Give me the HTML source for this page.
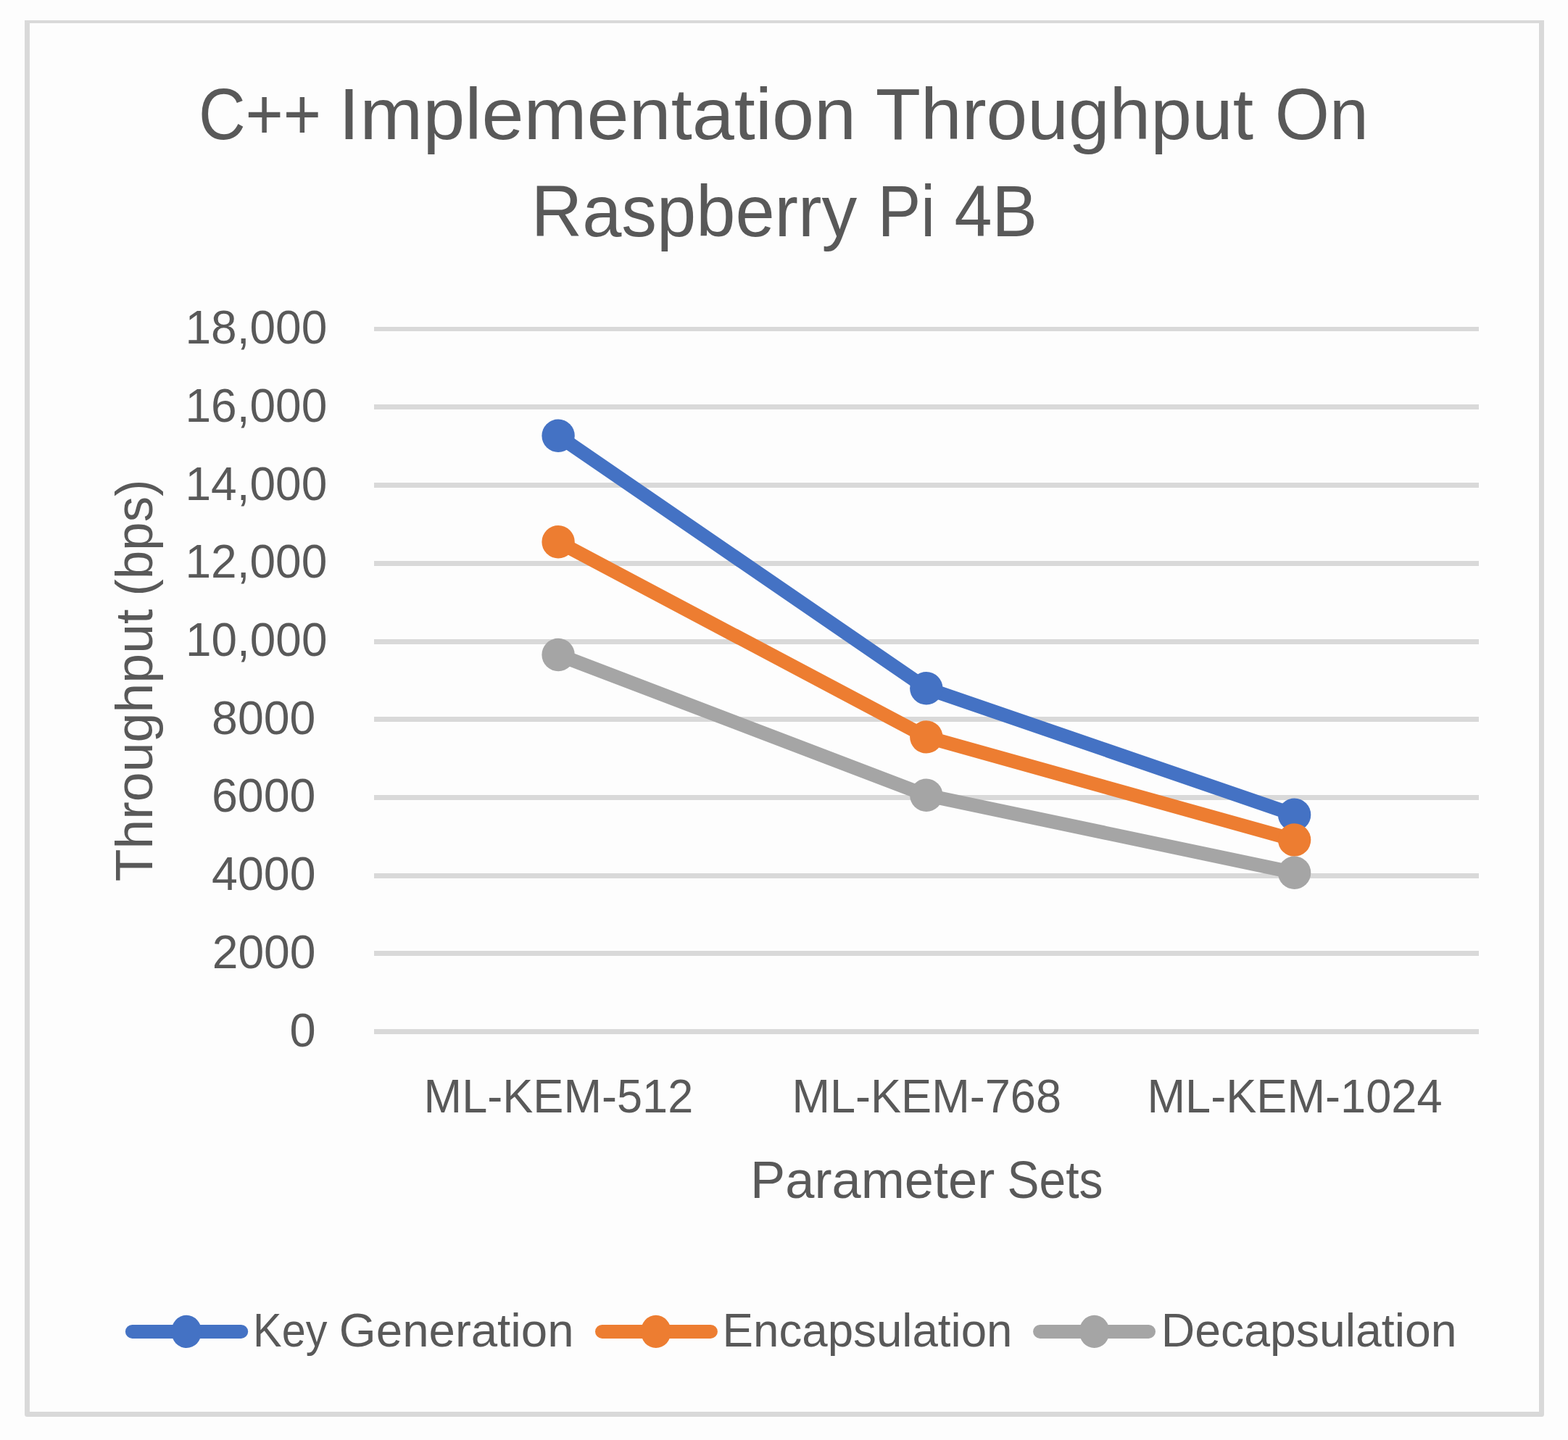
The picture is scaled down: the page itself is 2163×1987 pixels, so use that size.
<!DOCTYPE html>
<html lang="en">
<head>
<meta charset="utf-8">
<title>C++ Implementation Throughput On Raspberry Pi 4B</title>
<style>
html,body{margin:0;padding:0;background:#fdfdfd;}
body{width:2163px;height:1987px;overflow:hidden;font-family:"Liberation Sans", sans-serif;}
svg{display:block;}
svg text{white-space:pre;}
</style>
</head>
<body>
<svg width="2163" height="1987" viewBox="0 0 2163 1987" role="img" aria-label="C++ Implementation Throughput On Raspberry Pi 4B">
<rect x="0" y="0" width="2163" height="1987" fill="#fdfdfd"/>
<path fill="#d9d9d9" fill-rule="evenodd" d="M34 28H2130V1951.5Q2130 1955 2126.5 1955H37.5Q34 1955 34 1951.5Z M41 32V1948H2123V32Z"/>
<g fill="#d9d9d9">
<rect x="516" y="451" width="1524" height="6"/>
<rect x="516" y="558" width="1524" height="7"/>
<rect x="516" y="666" width="1524" height="7"/>
<rect x="516" y="774" width="1524" height="7"/>
<rect x="516" y="882" width="1524" height="7"/>
<rect x="516" y="989" width="1524" height="7"/>
<rect x="516" y="1097" width="1524" height="7"/>
<rect x="516" y="1205" width="1524" height="7"/>
<rect x="516" y="1312" width="1524" height="7"/>
<rect x="516" y="1420" width="1524" height="7"/>
</g>
<g stroke="#4472c4" fill="#4472c4">
<polyline points="770.1,601.3 1277.8,949.7 1785.6,1124.3" fill="none" stroke-width="19" stroke-linecap="round" stroke-linejoin="round"/>
<circle cx="770.1" cy="601.3" r="22.7" stroke="none"/>
<circle cx="1277.8" cy="949.7" r="22.7" stroke="none"/>
<circle cx="1785.6" cy="1124.3" r="22.7" stroke="none"/>
</g>
<g stroke="#ed7d31" fill="#ed7d31">
<polyline points="770.1,747.7 1277.8,1016.9 1785.6,1159.0" fill="none" stroke-width="19" stroke-linecap="round" stroke-linejoin="round"/>
<circle cx="770.1" cy="747.7" r="22.7" stroke="none"/>
<circle cx="1277.8" cy="1016.9" r="22.7" stroke="none"/>
<circle cx="1785.6" cy="1159.0" r="22.7" stroke="none"/>
</g>
<g stroke="#a5a5a5" fill="#a5a5a5">
<polyline points="770.1,903.5 1277.8,1097.3 1785.6,1204.2" fill="none" stroke-width="19" stroke-linecap="round" stroke-linejoin="round"/>
<circle cx="770.1" cy="903.5" r="22.7" stroke="none"/>
<circle cx="1277.8" cy="1097.3" r="22.7" stroke="none"/>
<circle cx="1785.6" cy="1204.2" r="22.7" stroke="none"/>
</g>
<g fill="#595959" font-family='"Liberation Sans", sans-serif'>
<text y="191.8" font-size="101"><tspan x="273.92" textLength="169.23" lengthAdjust="spacingAndGlyphs">C++</tspan> <tspan x="467.13" textLength="713.99" lengthAdjust="spacingAndGlyphs">Implementation</tspan> <tspan x="1207.70" textLength="521.30" lengthAdjust="spacingAndGlyphs">Throughput</tspan> <tspan x="1758.80" textLength="128.94" lengthAdjust="spacingAndGlyphs">On</tspan></text>
<text y="325.7" font-size="101"><tspan x="732.80" textLength="449.41" lengthAdjust="spacingAndGlyphs">Raspberry</tspan> <tspan x="1210.78" textLength="79.25" lengthAdjust="spacingAndGlyphs">Pi</tspan> <tspan x="1316.54" textLength="114.34" lengthAdjust="spacingAndGlyphs">4B</tspan></text>
<text x="255.42" y="474.0" font-size="65" textLength="195.92" lengthAdjust="spacingAndGlyphs">18,000</text>
<text x="255.42" y="581.7" font-size="65" textLength="195.92" lengthAdjust="spacingAndGlyphs">16,000</text>
<text x="255.42" y="689.5" font-size="65" textLength="195.92" lengthAdjust="spacingAndGlyphs">14,000</text>
<text x="255.42" y="797.2" font-size="65" textLength="195.92" lengthAdjust="spacingAndGlyphs">12,000</text>
<text x="256.03" y="904.9" font-size="65" textLength="195.40" lengthAdjust="spacingAndGlyphs">10,000</text>
<text x="292.06" y="1012.6" font-size="65" textLength="143.33" lengthAdjust="spacingAndGlyphs">8000</text>
<text x="291.90" y="1120.3" font-size="65" textLength="143.60" lengthAdjust="spacingAndGlyphs">6000</text>
<text x="292.12" y="1228.1" font-size="65" textLength="143.38" lengthAdjust="spacingAndGlyphs">4000</text>
<text x="292.66" y="1335.8" font-size="65" textLength="142.93" lengthAdjust="spacingAndGlyphs">2000</text>
<text x="399.53" y="1443.5" font-size="65" textLength="36.15" lengthAdjust="spacingAndGlyphs">0</text>
<text x="584.61" y="1534.7" font-size="65" textLength="371.67" lengthAdjust="spacingAndGlyphs">ML-KEM-512</text>
<text x="1092.41" y="1534.7" font-size="65" textLength="371.55" lengthAdjust="spacingAndGlyphs">ML-KEM-768</text>
<text x="1582.51" y="1534.7" font-size="65" textLength="407.04" lengthAdjust="spacingAndGlyphs">ML-KEM-1024</text>
<text y="1653.0" font-size="72.5"><tspan x="1035.07" textLength="337.31" lengthAdjust="spacingAndGlyphs">Parameter</tspan> <tspan x="1389.57" textLength="132.01" lengthAdjust="spacingAndGlyphs">Sets</tspan></text>
<text y="0.0" font-size="72.5" transform="translate(210 1214.8) rotate(-90)"><tspan x="-1.65" textLength="375.93" lengthAdjust="spacingAndGlyphs">Throughput</tspan> <tspan x="392.40" textLength="160.86" lengthAdjust="spacingAndGlyphs">(bps)</tspan></text>
<text y="1857.9" font-size="65"><tspan x="349.01" textLength="102.41" lengthAdjust="spacingAndGlyphs">Key</tspan> <tspan x="467.86" textLength="323.76" lengthAdjust="spacingAndGlyphs">Generation</tspan></text>
<text x="996.57" y="1857.9" font-size="65" textLength="399.94" lengthAdjust="spacingAndGlyphs">Encapsulation</text>
<text x="1601.71" y="1857.9" font-size="65" textLength="407.83" lengthAdjust="spacingAndGlyphs">Decapsulation</text>
</g>
<line x1="182.4" y1="1837.4" x2="332.7" y2="1837.4" stroke="#4472c4" stroke-width="19" stroke-linecap="round"/>
<ellipse cx="257.2" cy="1837.4" rx="20.9" ry="22.6" fill="#4472c4"/>
<line x1="830.5" y1="1837.4" x2="980.4" y2="1837.4" stroke="#ed7d31" stroke-width="19" stroke-linecap="round"/>
<ellipse cx="904.8" cy="1837.4" rx="20.9" ry="22.6" fill="#ed7d31"/>
<line x1="1434.6" y1="1837.4" x2="1584.5" y2="1837.4" stroke="#a5a5a5" stroke-width="19" stroke-linecap="round"/>
<ellipse cx="1509.6" cy="1837.4" rx="20.9" ry="22.6" fill="#a5a5a5"/>
</svg>
</body>
</html>
